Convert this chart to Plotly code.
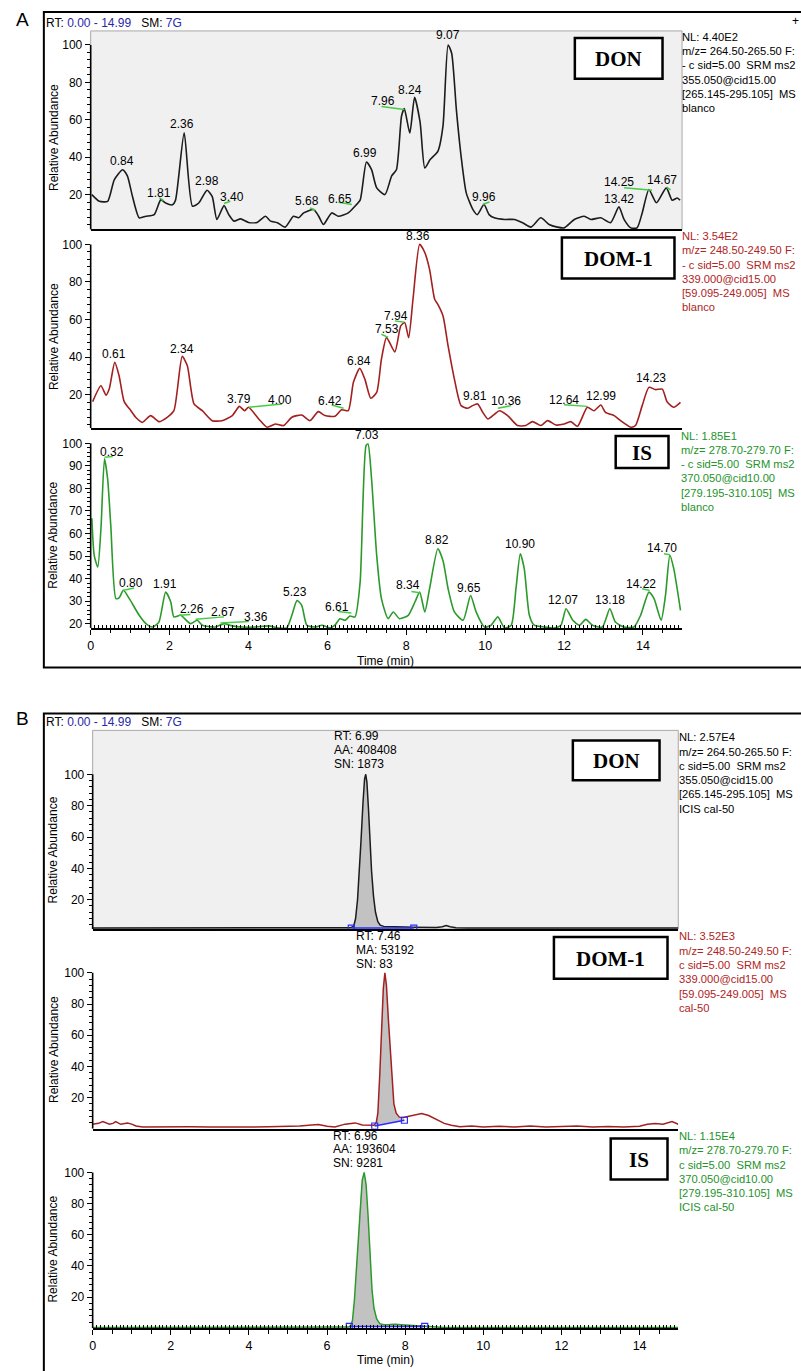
import plotly.graph_objects as go

# ---------------------------------------------------------------- data
time_ticks = [0, 2, 4, 6, 8, 10, 12, 14]
abund_ticks = [20, 40, 60, 80, 100]
is_a_ticks = [20, 30, 40, 50, 60, 70, 80, 90, 100]

# Panel A - DON (blanco)
don_a_t = [0.03, 0.22, 0.43, 0.6, 0.81, 0.93, 1.06, 1.23, 1.4, 1.61,
           1.78, 1.9, 2.07, 2.15, 2.37, 2.58, 2.74, 2.95, 3.08, 3.2,
           3.38, 3.5, 3.63, 3.8, 4.0, 4.22, 4.43, 4.56, 4.73, 4.93,
           5.14, 5.27, 5.4, 5.65, 5.78, 5.9, 6.11, 6.28, 6.53, 6.7,
           6.83, 6.99, 7.12, 7.25, 7.46, 7.63, 7.75, 7.88, 7.95, 8.09,
           8.21, 8.35, 8.47, 8.6, 8.8, 8.93, 9.06, 9.15, 9.27, 9.39,
           9.52, 9.69, 9.8, 9.97, 10.1, 10.23, 10.5, 10.74, 10.95, 11.16,
           11.41, 11.62, 11.83, 12.0, 12.26, 12.51, 12.68, 12.93, 13.18, 13.39,
           13.52, 13.69, 13.85, 13.98, 14.15, 14.34, 14.59, 14.74, 14.87, 14.94]
don_a_v = [20, 16.4, 16.4, 28, 33.3, 30, 19, 7.6, 8.4, 9.3,
           17.3, 15.5, 14.5, 17, 53, 13.8, 15.5, 22.3, 19, 6.7,
           14.1, 9.3, 5.8, 7, 5.1, 5.1, 8.4, 5.8, 5, 2.6,
           8.4, 7.6, 10.2, 12, 8.4, 4, 10.2, 8.4, 10.2, 13.8,
           17, 37.4, 33.3, 23.6, 20, 30, 33.3, 62, 66, 52.9,
           72, 58.7, 34.2, 38.6, 43.1, 56.6, 100, 95.6, 65.3, 40.4,
           20.9, 12, 9.3, 14.7, 9.3, 7.6, 6.7, 6.7, 4.9, 2.6,
           7.6, 4, 2.6, 2.2, 6.7, 8.4, 6.7, 7.6, 5, 13.4,
           6.7, 2.2, 2.2, 10.2, 22.7, 15.6, 23.6, 17, 18.2, 17]
don_a_labels = ["0.84", "1.81", "2.36", "2.98", "3.40", "5.68", "6.65", "6.99",
                "7.96", "8.24", "9.07", "9.96", "13.42", "14.25", "14.67"]
don_a_label_t = [0.79, 1.72, 2.32, 2.95, 3.59, 5.48, 6.32, 6.95,
                 7.42, 8.09, 9.06, 9.98, 13.39, 13.39, 14.49]
don_a_label_v = [37.8, 20.9, 57.5, 27.1, 18.8, 16.4, 17.7, 42.2,
                 69.8, 76, 105.3, 18.8, 17.9, 26.6, 28]
don_a_flag_t0 = [1.74, 3.38, 5.56, 6.28, 7.37, 9.94, 13.52, 14.6]
don_a_flag_t1 = [1.85, 3.54, 5.69, 6.62, 7.95, 10.11, 14.23, 14.7]
don_a_flag_v0 = [18.4, 15.2, 12.9, 15.9, 67.1, 14.8, 23.6, 24]
don_a_flag_v1 = [16.8, 16.4, 11.6, 14.7, 65.5, 16, 22.3, 22.5]

# Panel A - DOM-1 (blanco)
dom_a_t = [0.05, 0.26, 0.39, 0.47, 0.61, 0.72, 0.85, 1.02, 1.14, 1.31,
           1.52, 1.73, 1.94, 2.11, 2.32, 2.45, 2.62, 2.83, 3.08, 3.33,
           3.59, 3.77, 3.9, 4.0, 4.26, 4.47, 4.68, 4.89, 5.1, 5.35,
           5.56, 5.77, 5.94, 6.19, 6.36, 6.53, 6.66, 6.82, 6.95, 7.1,
           7.25, 7.37, 7.5, 7.71, 7.86, 7.96, 8.06, 8.17, 8.34, 8.47,
           8.59, 8.72, 8.8, 8.93, 9.06, 9.22, 9.39, 9.56, 9.68, 9.81,
           9.94, 10.07, 10.24, 10.36, 10.57, 10.82, 11.03, 11.2, 11.41, 11.58,
           11.79, 12.0, 12.17, 12.34, 12.59, 12.76, 12.93, 13.05, 13.27, 13.43,
           13.69, 13.81, 13.98, 14.15, 14.32, 14.49, 14.61, 14.78, 14.95]
dom_a_v = [16.3, 24.8, 19.8, 23, 37.2, 30.1, 16.3, 11.5, 8, 5.3,
           8.9, 5.7, 8, 11.5, 40.4, 35.4, 15.1, 11.5, 6.2, 6.2,
           8.9, 13.8, 11.5, 13.3, 7.1, 2.7, 4.4, 3.6, 8, 9.2,
           6.2, 11, 8.9, 8.5, 12, 11.5, 26.6, 34, 28.3, 18.1,
           21.2, 38.9, 50.4, 42.8, 56.6, 58.4, 50.4, 70.8, 100, 95.6,
           86.7, 70.8, 68.1, 62, 46, 28.3, 14.2, 12.8, 14.2, 15.1,
           10.6, 7.1, 9.7, 11.5, 8.9, 3.6, 3.6, 5.7, 3.6, 6.2,
           3.9, 4.4, 5.7, 3.2, 13.3, 11.5, 14.5, 10.6, 8.9, 6.2,
           2.7, 3.6, 14.2, 23.9, 22.7, 23, 16.3, 13.3, 15.9]
dom_a_labels = ["0.61", "2.34", "3.79", "4.00", "6.42", "6.84", "7.53", "7.94",
                "8.36", "9.81", "10.36", "12.64", "12.99", "14.23"]
dom_a_label_t = [0.58, 2.32, 3.77, 4.81, 6.07, 6.79, 7.5, 7.75,
                 8.3, 9.75, 10.53, 12.0, 12.93, 14.21]
dom_a_label_v = [41.6, 44.6, 17.7, 17.3, 16.8, 38.0, 54.9, 61.9,
                 104.4, 19.5, 16.8, 17.3, 19.5, 28.7]
dom_a_flag_t0 = [4.01, 6.11, 7.37, 7.71, 10.32, 12.0]
dom_a_flag_t1 = [4.85, 6.41, 7.54, 7.95, 10.66, 12.59]
dom_a_flag_v0 = [13.3, 14.5, 52.2, 59.3, 12.8, 14.7]
dom_a_flag_v1 = [15.1, 12.8, 50.5, 58.6, 14.2, 13.8]

# Panel A - IS (blanco)
is_a_t = [0.03, 0.09, 0.18, 0.26, 0.35, 0.43, 0.51, 0.64, 0.72, 0.83,
          0.98, 1.23, 1.4, 1.57, 1.73, 1.9, 2.03, 2.11, 2.28, 2.53,
          2.7, 2.83, 3.16, 3.38, 3.59, 3.84, 4.18, 4.51, 4.76, 4.97,
          5.1, 5.23, 5.35, 5.48, 5.69, 5.86, 6.07, 6.19, 6.32, 6.45,
          6.57, 6.7, 6.83, 6.98, 7.03, 7.12, 7.25, 7.37, 7.54, 7.67,
          7.83, 8.05, 8.22, 8.34, 8.47, 8.59, 8.8, 8.93, 9.06, 9.22,
          9.44, 9.63, 9.77, 9.98, 10.15, 10.32, 10.49, 10.66, 10.78, 10.89,
          10.99, 11.12, 11.24, 11.5, 11.75, 11.92, 12.05, 12.22, 12.39, 12.55,
          12.72, 12.97, 13.16, 13.3, 13.52, 13.77, 13.94, 14.15, 14.28, 14.46,
          14.57, 14.68, 14.78, 14.95]
is_a_v = [66.8, 50.3, 45.1, 62, 93.1, 84.2, 63.5, 31.1, 31.4, 34.8,
          31.1, 23.7, 20, 18.5, 20.7, 34, 29.6, 23, 23.7, 20,
          21.5, 19.3, 18.5, 20, 19, 18.5, 18.5, 19, 18.1, 18.1,
          23.7, 30.3, 28.1, 19.3, 18.5, 19.3, 18.1, 19.3, 22.2, 21.5,
          23.4, 23, 38.4, 99, 99.7, 84.2, 50.3, 31.1, 22.2, 25.2,
          22.2, 23.7, 29.6, 34, 25.2, 35.5, 53.2, 48, 35.5, 25.2,
          21.5, 32.5, 25.2, 18.5, 19.3, 23, 18.1, 19.3, 35.5, 51,
          44.4, 23.7, 19.3, 18.5, 18.1, 19.3, 26.6, 21.5, 19.3, 21.9,
          19.3, 18.5, 26.6, 20.7, 18.5, 18.5, 23.7, 34, 31.1, 21.5,
          32.5, 50.3, 44.4, 25.9]
is_a_labels = ["0.32", "0.80", "1.91", "2.26", "2.67", "3.36", "5.23", "6.61", "7.03",
               "8.34", "8.82", "9.65", "10.90", "12.07", "13.18", "14.22", "14.70"]
is_a_label_t = [0.54, 1.02, 1.88, 2.56, 3.35, 4.19, 5.18, 6.24, 7.01,
                8.05, 8.79, 9.6, 10.89, 11.96, 13.16, 13.96, 14.49]
is_a_label_v = [96.3, 38.2, 37.7, 26.6, 25.2, 23, 34, 27.4, 103.7,
                37.3, 57.3, 35.8, 55.4, 30.3, 30.3, 37.8, 53.5]
is_a_flag_t0 = [0.35, 0.81, 2.24, 2.66, 3.29, 6.28, 8.13, 13.98, 14.53]
is_a_flag_t1 = [0.56, 1.1, 2.53, 3.38, 4.01, 6.61, 8.34, 14.17, 14.68]
is_a_flag_v0 = [93.8, 34.7, 23.7, 21.9, 20.3, 25.4, 34.3, 35.5, 51]
is_a_flag_v1 = [94.2, 35.8, 24.1, 23.0, 21.0, 24.7, 33.7, 34.7, 50.6]

# Panel B - DON (ICIS cal-50)
don_b_t = [0.0, 0.5, 1.0, 1.5, 2.0, 2.5, 3.0, 3.5, 4.0, 4.5, 5.0, 5.5, 6.0, 6.4,
           6.6, 6.68, 6.73, 6.78, 6.82, 6.87, 6.92, 6.96, 6.99, 7.02, 7.06, 7.1,
           7.14, 7.19, 7.24, 7.3, 7.36, 7.45, 7.6, 7.8, 8.0, 8.2, 8.5, 8.8, 8.95,
           9.05, 9.15, 9.3, 9.6, 10.0, 10.5, 11.0, 11.5, 12.0, 12.5, 13.0, 13.5,
           14.0, 14.5, 14.99]
don_b_v = [2.0, 2.0, 2.0, 2.0, 2.0, 2.0, 2.0, 2.0, 2.0, 2.0, 2.0, 2.0, 2.0, 2.0,
           2.1, 3.0, 8.0, 20, 35, 58, 82, 97, 100, 95, 78, 55,
           38, 22, 12, 6.0, 3.8, 3.0, 2.8, 2.7, 2.6, 2.5, 2.3, 2.3, 2.8,
           3.5, 2.8, 2.2, 2.0, 2.0, 2.0, 2.0, 2.0, 2.0, 2.0, 2.0, 2.0,
           2.0, 2.0, 2.0]
don_b_base_t = [6.62, 8.22]
don_b_base_v = [1.9, 1.9]
don_b_info = ["RT: 6.99", "AA: 408408", "SN: 1873"]

# Panel B - DOM-1 (cal-50)
dom_b_t = [0.0, 0.15, 0.26, 0.35, 0.43, 0.52, 0.59, 0.72, 0.89, 1.0,
           1.11, 1.28, 1.6, 2.0, 2.5, 3.0, 3.5, 4.0, 4.5, 5.0,
           5.3, 5.61, 5.78, 6.0, 6.2, 6.46, 6.72, 6.9, 7.06, 7.2,
           7.26, 7.3, 7.35, 7.4, 7.44, 7.48, 7.52, 7.57, 7.62, 7.66,
           7.71, 7.77, 7.85, 7.95, 8.1, 8.25, 8.42, 8.6, 8.76, 9.0,
           9.18, 9.4, 9.7, 10.0, 10.4, 10.8, 11.2, 11.6, 12.0, 12.4,
           12.8, 13.2, 13.6, 14.0, 14.2, 14.4, 14.6, 14.83, 14.99]
dom_b_v = [2.9, 3.5, 4.6, 3.8, 3.0, 3.5, 4.6, 2.9, 3.7, 3.0,
           1.8, 1.2, 1.3, 1.2, 1.3, 1.2, 1.4, 1.2, 1.3, 1.5,
           1.8, 2.5, 2.8, 1.6, 1.2, 3.0, 3.8, 2.5, 2.2, 2.3,
           4.0, 10, 35, 65, 90, 100, 92, 70, 48, 30,
           16, 10, 7.5, 7.2, 8.0, 9.0, 9.8, 8.5, 6.4, 3.5,
           2.3, 1.4, 1.8, 1.2, 1.6, 1.2, 1.8, 1.2, 1.5, 1.8,
           1.2, 1.5, 1.2, 1.6, 2.9, 3.4, 2.9, 4.6, 2.9]
dom_b_base_t = [7.22, 7.98]
dom_b_base_v = [1.8, 5.5]
dom_b_info = ["RT: 7.46", "MA: 53192", "SN: 83"]

# Panel B - IS (ICIS cal-50)
is_b_t = [0.0, 1.0, 2.0, 3.0, 4.0, 5.0, 6.0, 6.4, 6.55, 6.6, 6.65, 6.7, 6.75,
          6.8, 6.85, 6.9, 6.95, 7.0, 7.05, 7.1, 7.15, 7.2, 7.27, 7.35, 7.45,
          7.6, 7.75, 7.9, 8.1, 8.3, 8.5, 8.7, 9.0, 10.0, 11.0, 12.0, 13.0,
          14.0, 14.99]
is_b_v = [0.5, 0.5, 0.5, 0.5, 0.5, 0.5, 0.5, 0.6, 0.8, 1.5, 5, 18, 38,
          62, 82, 95, 100, 92, 72, 48, 25, 13, 6, 3, 2.3,
          2.4, 2.6, 2.3, 2.0, 1.6, 1.2, 0.8, 0.5, 0.5, 0.5, 0.5, 0.5,
          0.5, 0.5]
is_b_base_t = [6.57, 8.5]
is_b_base_v = [1.2, 1.2]
is_b_info = ["RT: 6.96", "AA: 193604", "SN: 9281"]

# Scan header texts
don_a_hdr = ["NL: 4.40E2", "m/z= 264.50-265.50 F:", "- c sid=5.00  SRM ms2",
             "355.050@cid15.00", "[265.145-295.105]  MS", "blanco"]
dom_a_hdr = ["NL: 3.54E2", "m/z= 248.50-249.50 F:", "- c sid=5.00  SRM ms2",
             "339.000@cid15.00", "[59.095-249.005]  MS", "blanco"]
is_a_hdr = ["NL: 1.85E1", "m/z= 278.70-279.70 F:", "- c sid=5.00  SRM ms2",
            "370.050@cid10.00", "[279.195-310.105]  MS", "blanco"]
don_b_hdr = ["NL: 2.57E4", "m/z= 264.50-265.50 F:", "c sid=5.00  SRM ms2",
             "355.050@cid15.00", "[265.145-295.105]  MS", "ICIS cal-50"]
dom_b_hdr = ["NL: 3.52E3", "m/z= 248.50-249.50 F:", "c sid=5.00  SRM ms2",
             "339.000@cid15.00", "[59.095-249.005]  MS", "cal-50"]
is_b_hdr = ["NL: 1.15E4", "m/z= 278.70-279.70 F:", "c sid=5.00  SRM ms2",
            "370.050@cid10.00", "[279.195-310.105]  MS", "ICIS cal-50"]

compound_names = ["DON", "DOM-1", "IS", "DON", "DOM-1", "IS"]

# ---------------------------------------------------------------- styling
W, H = 801, 1371
FONT = "Arial, 'Liberation Sans', Helvetica, sans-serif"
SERIF = "'Times New Roman', 'Liberation Serif', serif"
C_DON = "#1c1c1c"
C_DOM = "#a32020"
C_IS = "#2b9a2b"
C_DOM_TXT = "#b02424"
C_IS_TXT = "#23932a"
C_FLAG = "#45cc45"
C_BLUE = "#2828a8"
NB = "\u00a0"


def fx(p):
    return p / W


def fy(p):
    return 1 - p / H


def ax(i):
    return "" if i == 1 else str(i)


panels = [
    dict(xd=(88, 681.6), yd=(31, 230), yr=(1.33, 107.5), maj=abund_ticks, mstep=4,
         bottom=False, gray=True, color=C_DON, tcol="black", box=(574, 38, 662, 79),
         hdr_x=680, hdr_y=37, ytitle=138),
    dict(xd=(88, 681.6), yd=(231, 429.3), yr=(2.1, 107.4), maj=abund_ticks, mstep=4,
         bottom=False, gray=False, color=C_DOM, tcol=C_DOM_TXT, box=(561, 238, 674, 279),
         hdr_x=680, hdr_y=236.5, ytitle=337.5),
    dict(xd=(88, 681.6), yd=(431, 629.3), yr=(18.1, 105.9), maj=is_a_ticks, mstep=2,
         bottom=True, gray=False, color=C_IS, tcol=C_IS_TXT, box=(615, 437, 668, 469),
         hdr_x=679, hdr_y=436.5, ytitle=536.5),
    dict(xd=(90, 677.8), yd=(732, 931), yr=(1.35, 128), maj=abund_ticks, mstep=4,
         bottom=False, gray=True, color=C_DON, tcol="black", box=(572, 742, 659, 782),
         hdr_x=677, hdr_y=739, ytitle=852),
    dict(xd=(90, 677.8), yd=(932, 1131.3), yr=(0.0, 127.5), maj=abund_ticks, mstep=4,
         bottom=False, gray=False, color=C_DOM, tcol=C_DOM_TXT, box=(553, 939, 667, 981),
         hdr_x=677, hdr_y=938.5, ytitle=1052),
    dict(xd=(90, 677.8), yd=(1132, 1331.2), yr=(0.0, 127.5), maj=abund_ticks, mstep=4,
         bottom=True, gray=False, color=C_IS, tcol=C_IS_TXT, box=(610, 1141, 667, 1182),
         hdr_x=677, hdr_y=1138.5, ytitle=1252),
]

traces_t = [don_a_t, dom_a_t, is_a_t, don_b_t, dom_b_t, is_b_t]
traces_v = [don_a_v, dom_a_v, is_a_v, don_b_v, dom_b_v, is_b_v]
headers = [don_a_hdr, dom_a_hdr, is_a_hdr, don_b_hdr, dom_b_hdr, is_b_hdr]
labels = [(don_a_labels, don_a_label_t, don_a_label_v),
          (dom_a_labels, dom_a_label_t, dom_a_label_v),
          (is_a_labels, is_a_label_t, is_a_label_v)]
flags = [(don_a_flag_t0, don_a_flag_t1, don_a_flag_v0, don_a_flag_v1),
         (dom_a_flag_t0, dom_a_flag_t1, dom_a_flag_v0, dom_a_flag_v1),
         (is_a_flag_t0, is_a_flag_t1, is_a_flag_v0, is_a_flag_v1)]
integrations = {4: (don_b_base_t, don_b_base_v, don_b_info, 330),
                5: (dom_b_base_t, dom_b_base_v, dom_b_info, 352.5),
                6: (is_b_base_t, is_b_base_v, is_b_info, 329.5)}

fig = go.Figure()
layout = dict(width=W, height=H, margin=dict(l=0, r=0, t=0, b=0),
              paper_bgcolor="white", plot_bgcolor="rgba(0,0,0,0)", showlegend=False)
shapes = []
annotations = []


def text(x, y, s, size=12, color="black", xanchor="left", family=FONT, **kw):
    annotations.append(dict(xref="paper", yref="paper", x=fx(x), y=fy(y), text=s,
                            showarrow=False, xanchor=xanchor, yanchor="middle",
                            font=dict(family=family, size=size, color=color), **kw))


extra_axis = 7
for i, p in enumerate(panels, 1):
    xs, ys = "x" + ax(i), "y" + ax(i)
    xa = dict(domain=[fx(p["xd"][0]), fx(p["xd"][1])], range=[0, 14.99], anchor=ys,
              showgrid=False, zeroline=False, showline=True, linecolor="black",
              linewidth=1.6, fixedrange=True)
    if p["bottom"]:
        xminor = [k / 2 for k in range(0, 30) if k % 4 != 0]
        xa.update(ticks="outside", ticklen=5, tickwidth=1.4, tickcolor="black",
                  tickmode="array", tickvals=time_ticks,
                  ticktext=[str(v) for v in time_ticks],
                  tickfont=dict(family=FONT, size=12.5, color="black"),
                  minor=dict(ticks="outside", ticklen=3.5, tickwidth=1.2, tickcolor="black",
                             tickmode="array", tickvals=xminor, showgrid=False))
        # fine upward ticks every 0.1 min on an overlaid axis
        ex = "x" + str(extra_axis)
        layout["xaxis" + str(extra_axis)] = dict(
            domain=xa["domain"], range=[0, 14.99], anchor=ys, overlaying=xs,
            showgrid=False, zeroline=False, showline=False, fixedrange=True,
            ticks="inside", ticklen=3, tickwidth=1, tickcolor="black",
            tick0=0, dtick=0.1, showticklabels=False)
        fig.add_trace(go.Scatter(x=[], y=[], xaxis=ex, yaxis=ys, mode="lines",
                                 hoverinfo="skip"))
        extra_axis += 1
    else:
        xa.update(ticks="", showticklabels=False)
    lo = p["yr"][0]
    yminor = [v for v in range(int(lo) + 1, 101) if v % p["mstep"] == 0 and v not in p["maj"]]
    ya = dict(domain=[fy(p["yd"][1]), fy(p["yd"][0])], range=list(p["yr"]), anchor=xs,
              showgrid=False, zeroline=False, showline=False, fixedrange=True,
              ticks="outside", ticklen=5, tickwidth=1.3, tickcolor="black",
              tickmode="array", tickvals=p["maj"], ticktext=[str(v) for v in p["maj"]],
              tickfont=dict(family=FONT, size=12, color="black"),
              minor=dict(ticks="outside", ticklen=3, tickwidth=1, tickcolor="black",
                         tickmode="array", tickvals=yminor, showgrid=False))
    layout["xaxis" + ax(i)] = xa
    layout["yaxis" + ax(i)] = ya

    if p["gray"]:
        shapes.append(dict(type="rect", xref=f"{xs} domain", yref=f"{ys} domain",
                           x0=0, x1=1, y0=0, y1=1, fillcolor="#f0f0f0",
                           line=dict(color="#a8a8a8", width=1), layer="below"))
    # y axis line from bottom to 100
    shapes.append(dict(type="line", xref=f"{xs} domain", yref=ys, x0=0, x1=0,
                       y0=lo, y1=100, line=dict(color="black", width=1.6)))

    t, v = traces_t[i - 1], traces_v[i - 1]
    n = min(len(t), len(v))
    t, v = t[:n], v[:n]

    if i in integrations:
        bt, bv, info, infox = integrations[i]
        seg = [(a, b) for a, b in zip(t, v) if bt[0] < a < bt[1]]
        px_ = [bt[0]] + [a for a, _ in seg] + [bt[1]]
        py_ = [bv[0]] + [b for _, b in seg] + [bv[1]]
        fig.add_trace(go.Scatter(x=px_, y=py_, xaxis=xs, yaxis=ys, mode="lines",
                                 fill="toself", fillcolor="#c2c2c2",
                                 line=dict(width=0), hoverinfo="skip"))
        fig.add_trace(go.Scatter(x=t, y=v, xaxis=xs, yaxis=ys, mode="lines",
                                 line=dict(color=p["color"], width=1.5)))
        fig.add_trace(go.Scatter(x=bt, y=bv, xaxis=xs, yaxis=ys, mode="lines+markers",
                                 line=dict(color="#2b2bff", width=1.5),
                                 marker=dict(symbol="square-open", size=6,
                                             color="#2b2bff", line=dict(width=1.2))))
        ytop = p["yd"][0] + 6
        for k, s in enumerate(info):
            text(infox, ytop + 14 * k, s, size=12)
    else:
        fig.add_trace(go.Scatter(x=t, y=v, xaxis=xs, yaxis=ys, mode="lines",
                                 line=dict(color=p["color"], width=1.6, shape="spline",
                                           smoothing=0.6)))

    if i <= 3:
        f0, f1, g0, g1 = flags[i - 1]
        fxs, fys = [], []
        for a, b, c, d in zip(f0, f1, g0, g1):
            fxs += [a, b, None]
            fys += [c, d, None]
        fig.add_trace(go.Scatter(x=fxs, y=fys, xaxis=xs, yaxis=ys, mode="lines",
                                 line=dict(color=C_FLAG, width=1.5), hoverinfo="skip"))
        labs, lt, lv = labels[i - 1]
        for s, a, b in zip(labs, lt, lv):
            annotations.append(dict(xref=xs, yref=ys, x=a, y=b, text=s, showarrow=False,
                                    xanchor="center", yanchor="middle",
                                    font=dict(family=FONT, size=12, color="black")))

    # compound box
    x0, y0, x1, y1 = p["box"]
    shapes.append(dict(type="rect", xref="paper", yref="paper", x0=fx(x0), x1=fx(x1),
                       y0=fy(y1), y1=fy(y0), fillcolor="white",
                       line=dict(color="black", width=2.5), layer="above"))
    text((x0 + x1) / 2, (y0 + y1) / 2 + 1, f"<b>{compound_names[i - 1]}</b>", size=21,
         xanchor="center", family=SERIF)

    # scan header at right
    for k, s in enumerate(headers[i - 1]):
        text(p["hdr_x"], p["hdr_y"] + 14.3 * k, s.replace("  ", NB + NB), size=11.2,
             color=p["tcol"])

    # y-axis title
    text(50.5, p["ytitle"], "Relative Abundance", size=12, xanchor="center",
         textangle=-90)

# time titles
text(384, 662, "Time (min)", size=12, xanchor="center")
text(384, 1363, "Time (min)", size=12, xanchor="center")

# panel letters and RT headers
text(11, 20, "A", size=19)
text(11, 720, "B", size=19)
hdr = (f"RT:{NB}<span style='color:{C_BLUE}'>0.00{NB}-{NB}14.99</span>"
       f"{NB}{NB}{NB}SM:{NB}<span style='color:{C_BLUE}'>7G</span>")
text(41, 23, hdr, size=12)
text(41, 724, hdr, size=12)
text(795, 21, "+", size=12, xanchor="center")

# outer frames
shapes.append(dict(type="rect", xref="paper", yref="paper", x0=fx(41), x1=fx(815),
                   y0=fy(669), y1=fy(12), line=dict(color="black", width=2)))
shapes.append(dict(type="rect", xref="paper", yref="paper", x0=fx(41), x1=fx(815),
                   y0=fy(1385), y1=fy(715), line=dict(color="black", width=2)))

layout["shapes"] = shapes
layout["annotations"] = annotations
fig.update_layout(**layout)
fig.write_html("out.html")
